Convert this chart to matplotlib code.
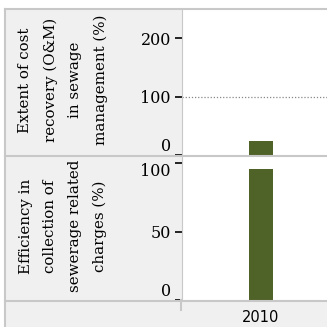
import matplotlib
matplotlib.use("Agg")
import matplotlib.pyplot as plt
from matplotlib.lines import Line2D
from matplotlib.patches import Rectangle

years = ["2010"]
cost_recovery = [24]
collection_efficiency = [96]
top_label = "Extent of cost\nrecovery (O&M)\nin sewage\nmanagement (%)"
bottom_label = "Efficiency in\ncollection of\nsewerage related\ncharges (%)"
top_ticks = [0, 100, 200]
bottom_ticks = [0, 50, 100]
reference_level = 100

W = H = 327
fig = plt.figure(figsize=(3.27, 3.27), dpi=100)
fig.patch.set_facecolor("white")

def fx(x):
    return x / W

def fy(y):
    return 1 - y / H

GRAY = "#f0f0f0"
BORDER = "#c8c8c8"
BAR = "#4f6228"
SERIF = ["DejaVu Serif"]

# background cells
fig.add_artist(Rectangle((fx(5), 0), fx(182) - fx(5), fy(9), transform=fig.transFigure,
                         facecolor=GRAY, edgecolor="none", zorder=0))
fig.add_artist(Rectangle((fx(5), 0), 1, fy(300), transform=fig.transFigure,
                         facecolor=GRAY, edgecolor="none", zorder=0))

def make_ax(top, bottom, vals, ylim, ticks):
    ax = fig.add_axes([fx(182), fy(bottom), fx(340) - fx(182), fy(top) - fy(bottom)])
    ax.bar(range(len(years)), vals, width=0.152, color=BAR, zorder=3)
    ax.set_xlim(-0.5, 0.5)
    ax.set_ylim(*ylim)
    ax.set_yticks(ticks)
    ax.set_yticklabels([str(t) for t in ticks], fontfamily=SERIF, fontsize=11.5)
    ax.tick_params(axis="y", length=5, width=1.2, pad=3, colors="black")
    ax.set_xticks([])
    for s in ax.spines.values():
        s.set_visible(False)
    return ax

ax1 = make_ax(10, 155, cost_recovery, (0, 248), top_ticks)
ax1.axhline(reference_level, color="#888888", linestyle=(0, (1, 1.5)), linewidth=0.9, zorder=2)
labs = ax1.get_yticklabels()
labs[0].set_va("bottom")

ax2 = make_ax(157, 300, collection_efficiency, (0, 104.4), bottom_ticks)
labs = ax2.get_yticklabels()
labs[0].set_va("bottom")
labs[-1].set_va("top")

# labels
fig.text(fx(63), fy(80), top_label, rotation=90, ha="center", va="center",
         multialignment="center", fontfamily=SERIF, fontsize=10.8, linespacing=1.97)
fig.text(fx(63), fy(226), bottom_label, rotation=90, ha="center", va="center",
         multialignment="center", fontfamily=SERIF, fontsize=10.8, linespacing=1.97)

# x category label
for i, y in enumerate(years):
    fig.text(fx(261), fy(318), y, ha="center", va="center", fontsize=10.5,
             fontfamily=["DejaVu Sans"])

# borders
def hline(y, x0, x1, lw=1.5):
    fig.add_artist(Line2D([fx(x0), fx(x1)], [fy(y), fy(y)], transform=fig.transFigure,
                          color=BORDER, linewidth=lw, zorder=5))

def vline(x, y0, y1, lw=1.5):
    fig.add_artist(Line2D([fx(x), fx(x)], [fy(y0), fy(y1)], transform=fig.transFigure,
                          color=BORDER, linewidth=lw, zorder=5))

hline(9, 5, 327)
hline(156, 5, 327)
hline(300.5, 5, 327)
vline(5, 9, 327)
vline(182, 9, 300, lw=0.8)
vline(181, 300, 310, lw=1.5)

fig.savefig("out.png", dpi=100)
